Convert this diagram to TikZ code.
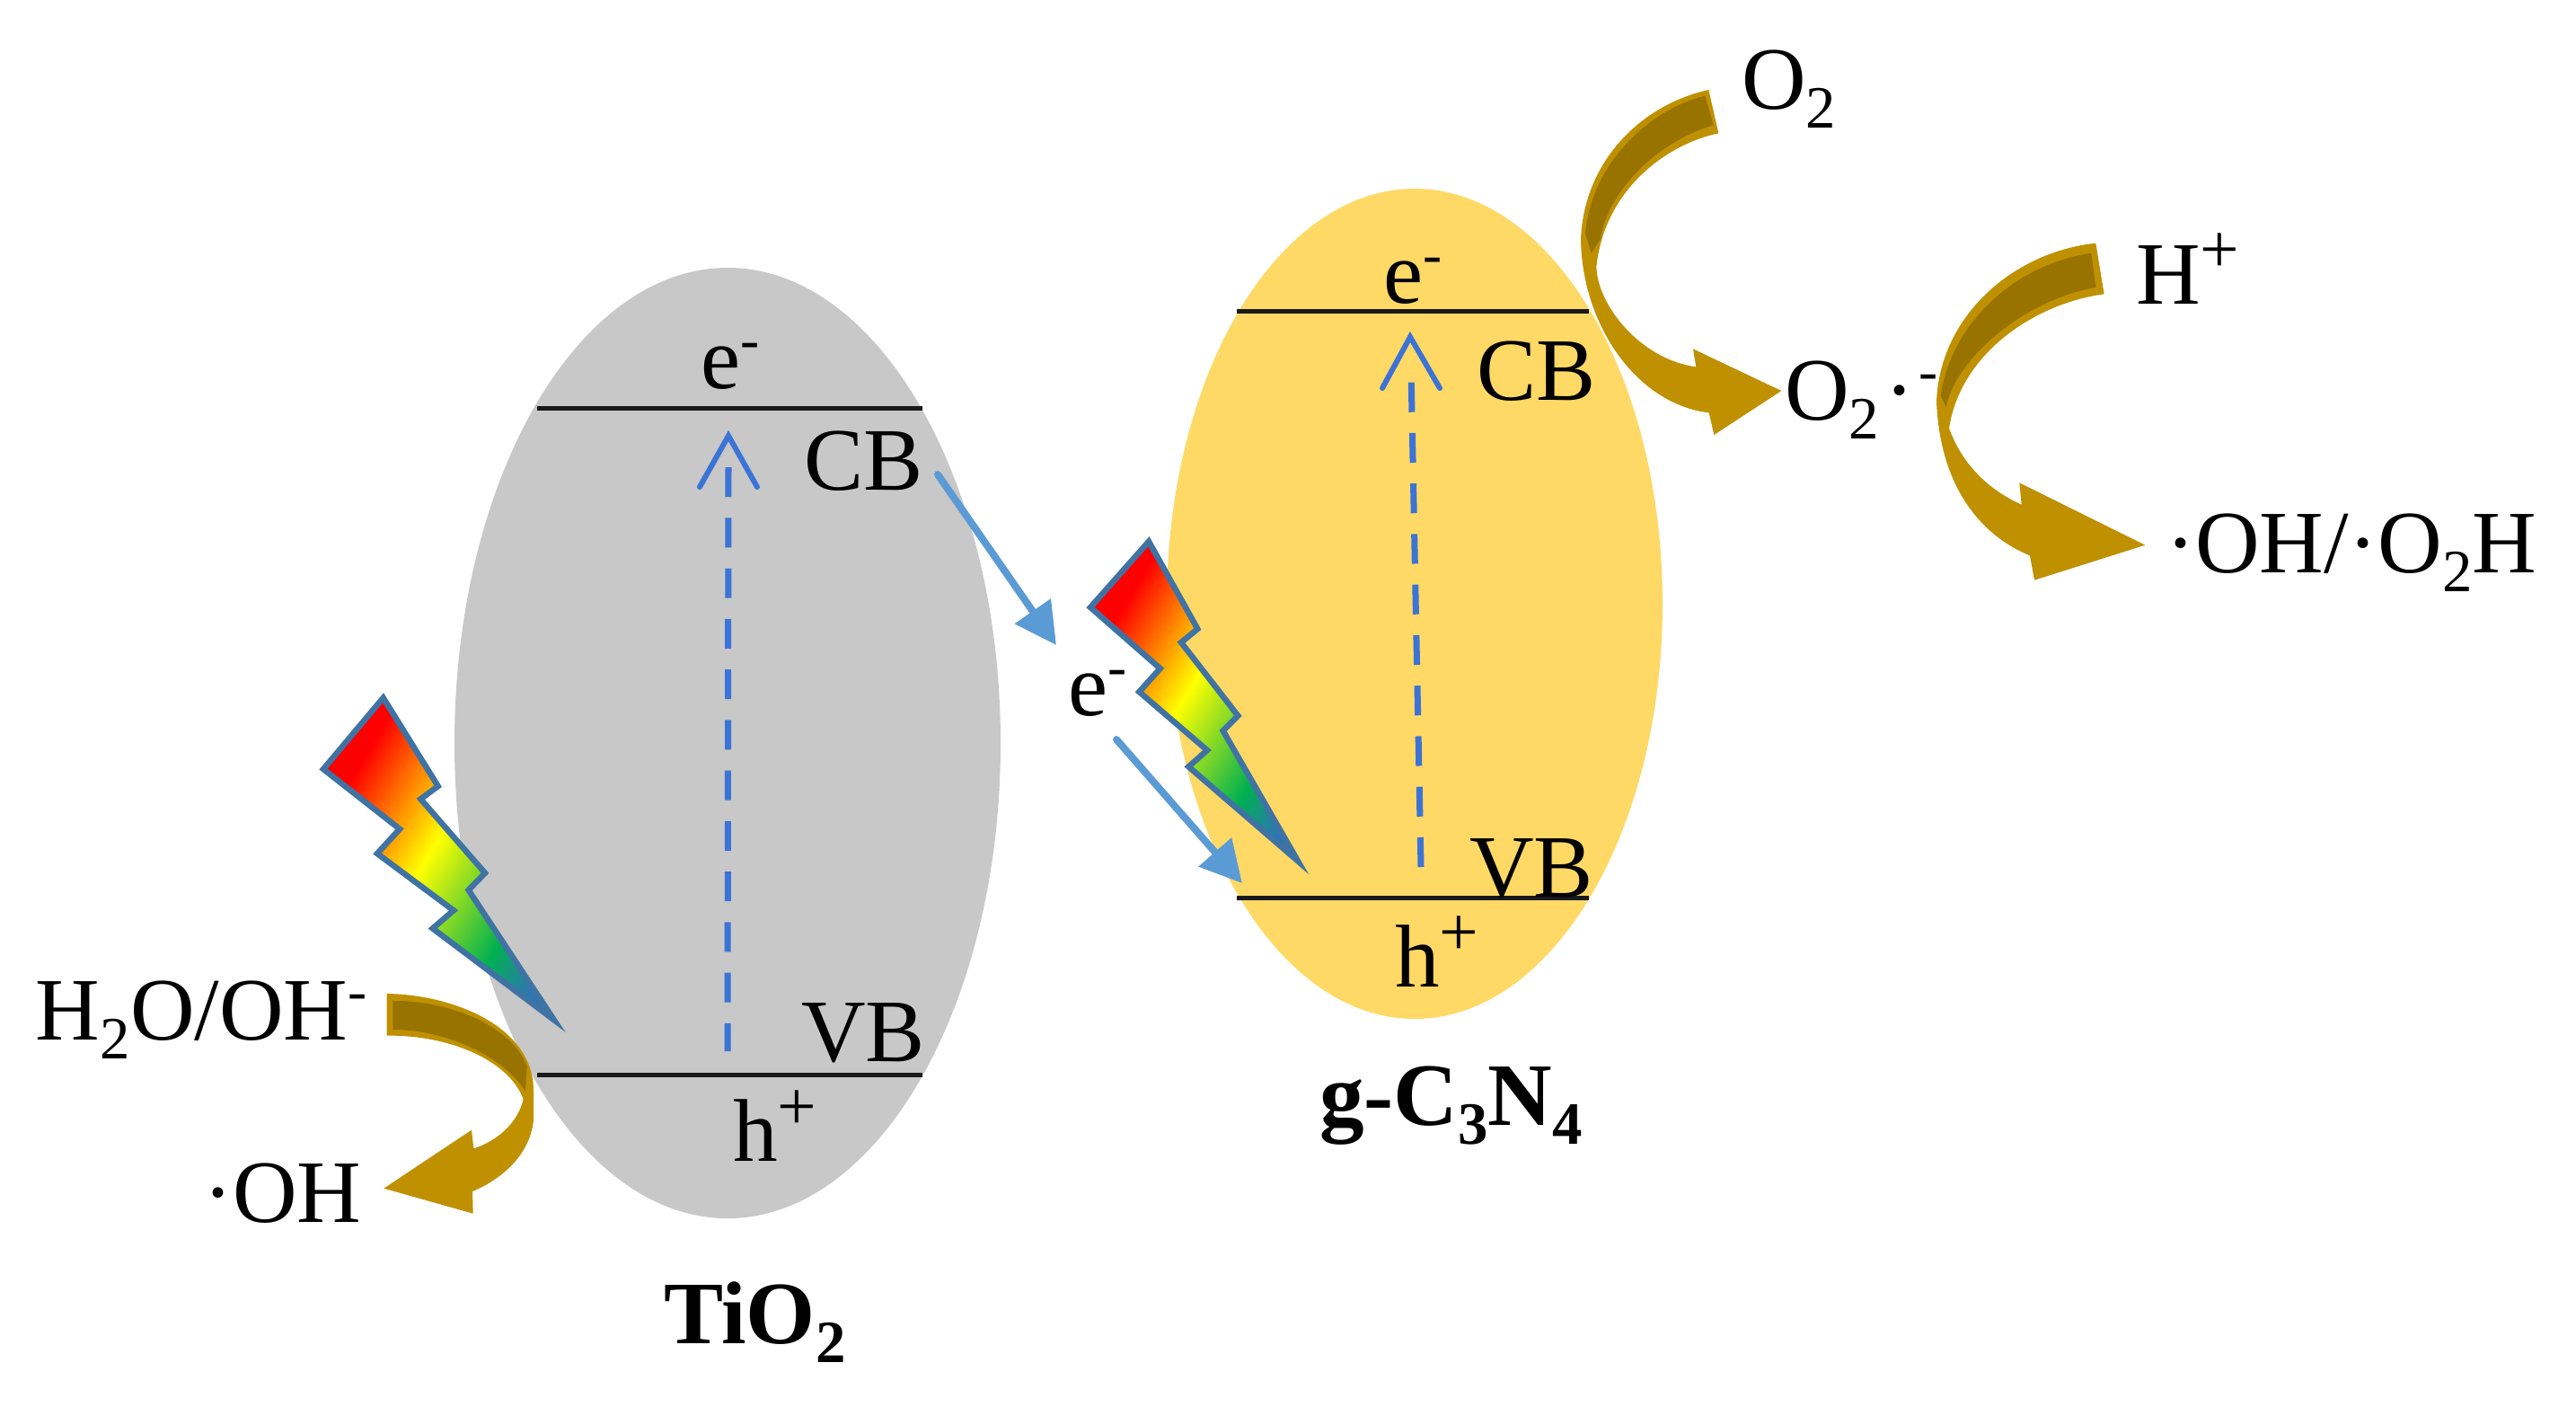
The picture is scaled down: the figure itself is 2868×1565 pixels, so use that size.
\documentclass[tikz,border=0pt]{standalone}
\usepackage{fontspec}
\setmainfont{Liberation Serif}
\usetikzlibrary{arrows.meta}
\definecolor{grayell}{HTML}{C8C8C8}
\definecolor{yellell}{HTML}{FFD966}
\definecolor{gold}{HTML}{BF9000}
\definecolor{golddark}{HTML}{997300}
\definecolor{lightblue}{HTML}{5B9BD5}
\definecolor{dashblue}{HTML}{3C73D6}
\definecolor{boltline}{HTML}{3F73A4}
\definecolor{boltgreen}{HTML}{00B050}
\definecolor{boltblue}{HTML}{2E75B6}
\pgfdeclarehorizontalshading{boltshade}{100bp}{color(0bp)=(red); color(28bp)=(red); color(48bp)=(yellow); color(68bp)=(boltgreen); color(78bp)=(boltblue); color(100bp)=(boltblue)}
\newcommand\subs[1]{\raisebox{-0.22em}{\fontsize{19}{19}\selectfont #1}}
\newcommand\supm{\raisebox{0.33em}{\fontsize{18}{18}\selectfont -}}
\newcommand\supp{\raisebox{0.35em}{\fontsize{22}{22}\selectfont +}}
\tikzset{
  lbl/.style={anchor=base west,inner sep=0pt,outer sep=0pt,font=\fontsize{28.2}{30}\selectfont},
  boldlbl/.style={lbl,font=\fontsize{28.2}{30}\selectfont\bfseries},
  bandline/.style={black!90,line width=0.05cm},
  bolt/.style={draw=boltline,line width=0.065cm,miter limit=20,shading=boltshade,shading angle=-31},
  goldbody/.style={fill=gold,draw=none},
  golddeep/.style={fill=golddark,draw=none},
  transfer/.style={lightblue,line width=0.08cm,line cap=round,-{Triangle[length=0.46cm,width=0.47cm]}},
  excite/.style={dashblue,line width=0.07cm,dash pattern=on 9.4pt off 6.6pt},
  barb/.style={dashblue,line width=0.06cm,line join=miter,line cap=round}
}
\begin{document}
\begin{tikzpicture}[x=0.01cm,y=-0.01cm]
\useasboundingbox (0,0) rectangle (2868,1565);
\fill[white] (0,0) rectangle (2868,1565);
% ellipses
\fill[grayell] (810,827) ellipse [x radius=304,y radius=529];
\fill[yellell] (1575,672) ellipse [x radius=276,y radius=462];
% band lines
\coordinate (gcbL) at (598,454); \coordinate (gcbR) at (1027,454);
\coordinate (gvbL) at (598,1196); \coordinate (gvbR) at (1027,1196);
\coordinate (ycbL) at (1377,346); \coordinate (ycbR) at (1769,346);
\coordinate (yvbL) at (1377,999); \coordinate (yvbR) at (1769,999);
\draw[bandline] (gcbL) -- (gcbR);
\draw[bandline] (gvbL) -- (gvbR);
\draw[bandline] (ycbL) -- (ycbR);
\draw[bandline] (yvbL) -- (yvbR);
% excitation arrows
\coordinate (gs) at (810,1170); \coordinate (gd) at (811,520); \coordinate (gt) at (811,485);
\coordinate (gw1) at (779,542); \coordinate (gw2) at (843,542);
\draw[excite] (gd) -- (gs);
\draw[barb] (gw1) -- (gt) -- (gw2);
\coordinate (ys) at (1582,965); \coordinate (yd) at (1571,410); \coordinate (yt) at (1570,375);
\coordinate (yw1) at (1539,432); \coordinate (yw2) at (1603,432);
\draw[excite] (ys) -- (yd);
\draw[barb] (yw1) -- (yt) -- (yw2);
% labels
\node[lbl] (eg) at (780,432) {e\supm};
\node[lbl] (cbg) at (895,545) {CB};
\node[lbl] (vbg) at (892,1181) {VB};
\node[lbl] (hg) at (816,1292) {h\supp};
\node[boldlbl] (tio) at (739,1495) {TiO\subs{2}};
\node[lbl] (ey) at (1540,337) {e\supm};
\node[lbl] (cby) at (1644,445) {CB};
\node[lbl] (vby) at (1636,998) {VB};
\node[lbl] (hy) at (1553,1098) {h\supp};
\node[boldlbl] (gcn) at (1469,1252) {g-C\subs{3}N\subs{4}};
\node[lbl] (em) at (1189,796) {e\supm};
\node[lbl] (water) at (40,1157) {H\subs{2}O/OH\supm};
\node[lbl] (oh) at (226,1360) {·OH};
\node[lbl] (otwo) at (1939,121) {O\subs{2}};
\node[lbl] (hplus) at (2378,338) {H\supp};
\node[lbl] (super) at (1987,467) {O\subs{2}\kern0.07em·\kern0.05em\supm};
\node[lbl] (prod) at (2411,637) {·OH/·O\subs{2}H};
% bolt 1
\begin{scope}[shift={(340,750)},xscale=1/3,yscale=1/3]
\path[bolt] (260,80) -- (443,375) -- (385,418) -- (600,665) -- (545,722) -- (830,1155) -- (425,850) -- (495,790) -- (240,600) -- (315,518) -- (60,318) -- cycle;
\end{scope}
% left curved arrow
\begin{scope}[shift={(400,1080)},xscale=1/3,yscale=1/3]
\path[goldbody] (92,78) .. controls (300,80) and (580,180) .. (582,400) -- (582,500) .. controls (570,620) and (470,700) .. (378,738) -- (380,812) -- (82,728) -- (375,533) -- (382,595) .. controls (460,570) and (530,510) .. (548,430) .. controls (500,300) and (300,215) .. (92,218) -- cycle;
\path[golddeep] (112,102) .. controls (300,100) and (510,185) .. (560,320) -- (555,405) .. controls (490,295) and (300,198) .. (112,198) -- cycle;
\end{scope}
% bolt 2 and blue arrows
\begin{scope}[shift={(1200,590)},xscale=1/3,yscale=1/3]
\path[bolt] (237,38) -- (400,330) -- (345,375) -- (535,620) -- (485,670) -- (735,1105) -- (370,790) -- (432,735) -- (205,540) -- (275,462) -- (42,258) -- cycle;
\end{scope}
\coordinate (t1s) at (1044,528); \coordinate (t1e) at (1176,718);
\coordinate (t2s) at (1243,823); \coordinate (t2e) at (1383,983);
\draw[transfer] (t1s) -- (t1e);
\draw[transfer] (t2s) -- (t2e);
% top right curved arrow
\begin{scope}[shift={(1740,80)},xscale=1/3,yscale=1/3]
\path[goldbody] (487,60) -- (520,205) .. controls (350,240) and (140,390) .. (112,650) .. controls (115,780) and (260,960) .. (445,985) -- (435,925) -- (730,1065) -- (505,1212) -- (488,1138) .. controls (250,1110) and (65,850) .. (60,560) .. controls (70,300) and (260,110) .. (487,60) -- cycle;
\path[golddeep] (475,80) .. controls (290,125) and (95,305) .. (75,540) -- (95,605) -- (125,560) .. controls (150,400) and (310,235) .. (503,178) -- cycle;
\end{scope}
% far right curved arrow
\begin{scope}[shift={(2120,250)},xscale=1/3,yscale=1/3]
\path[goldbody] (640,62) -- (668,232) .. controls (450,260) and (190,420) .. (150,680) .. controls (190,790) and (270,880) .. (392,935) -- (385,862) -- (805,1070) -- (435,1187) -- (420,1105) .. controls (260,1040) and (120,880) .. (108,590) .. controls (120,300) and (370,90) .. (640,62) -- cycle;
\path[golddeep] (625,95) .. controls (380,130) and (160,320) .. (122,570) -- (140,610) .. controls (170,450) and (400,250) .. (640,210) -- cycle;
\end{scope}
\end{tikzpicture}
\end{document}
